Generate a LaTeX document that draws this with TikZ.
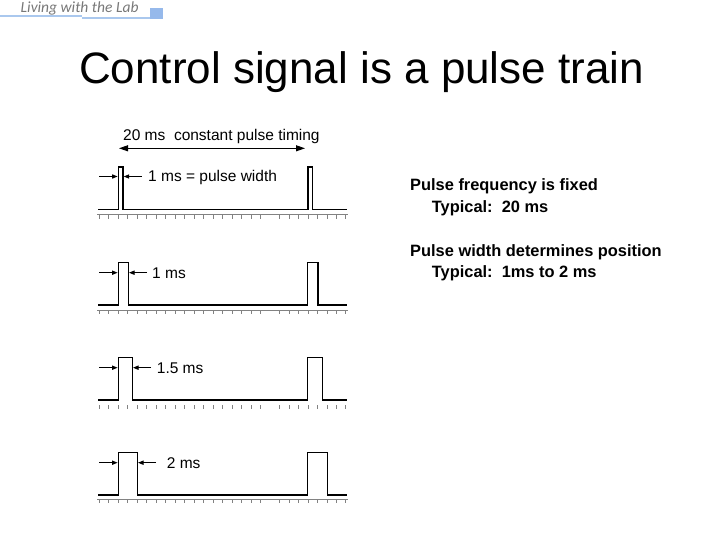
\documentclass[tikz,border=0pt]{standalone}
\usepackage{fontspec}
\setmainfont{Liberation Sans}
\newfontfamily\hdrfont{Carlito}
\usetikzlibrary{arrows.meta}
\definecolor{hdrblue}{RGB}{170,200,238}
\definecolor{hdrsq}{RGB}{150,185,235}
\definecolor{hdrgray}{RGB}{120,120,120}
\definecolor{tickgray}{RGB}{130,130,130}
\frenchspacing
\begin{document}
\begin{tikzpicture}[x=1pt,y=-1pt,
  wave/.style={line width=1.2pt, line join=miter, line cap=rect},
  dimarrow/.style={-{Triangle[length=5.5pt,width=4.2pt]}, line width=0.9pt},
  dblarrow/.style={{Triangle[length=9pt,width=6pt]}-{Triangle[length=9pt,width=6pt]}, line width=1pt},
  lbl/.style={font=\fontsize{15.5}{18}\selectfont, anchor=base west, inner sep=0pt},
  rtext/.style={font=\bfseries\fontsize{16.4}{19}\selectfont, anchor=base west, inner sep=0pt},
  tickline/.style={draw=tickgray, line width=0.6pt}]
\useasboundingbox (0,0) rectangle (720,540);
% header
\node[anchor=base west, inner sep=0pt, text=hdrgray, font=\hdrfont\itshape\fontsize{15.5}{18}\selectfont] (hdr) at (20.5,12.7) {Living with the Lab};
\fill[hdrblue] (0,15.4) rectangle (81.7,17.3);
\fill[hdrblue] (81.7,17.3) rectangle (163,19.3);
\fill[hdrsq] (150,8.3) rectangle (163,19.3);
% title
\node[anchor=base west, inner sep=0pt, font=\fontsize{44}{50}\selectfont] (title) at (79,83.3) {Control signal is a pulse train};
% right text
\node[rtext] (t1) at (410,190.7) {Pulse frequency is fixed};
\node[rtext] (t2) at (431.7,212.3) {Typical:~ 20 ms};
\node[rtext] (t3) at (410,256) {Pulse width determines position};
\node[rtext] (t4) at (431.7,277.3) {Typical:~ 1ms to 2 ms};
% 20 ms arrow
\node[lbl] (per) at (123,141) {20 ms~ constant pulse timing};
\coordinate (pa) at (119,148.3);
\coordinate (pb) at (305,148.3);
\draw[dblarrow] (pa) -- (pb);
% rows: base, top, p1 right, p2 left, p2 right, arrow y, left-arrow start, label x, label, tick y
\foreach \base/\top/\pr/\ql/\qr/\ay/\ls/\lx/\txt/\ty [count=\r] in {
  209.3/167/123/308/312.7/176.5/141.5/148/{1 ms = pulse width}/214.5,
  305/262.3/128.3/307.3/318/272.7/147/152/{1 ms}/310,
  400/357.3/132.3/307.7/322.3/367.7/151/156.7/{1.5 ms}/405,
  495/452.3/137.3/307.3/327.3/462.7/156/166.7/{2 ms}/499}{
  \draw[wave] (99,\base) -- (118.3,\base) -- (118.3,\top) -- (\pr,\top) -- (\pr,\base)
     -- (\ql,\base) -- (\ql,\top) -- (\qr,\top) -- (\qr,\base) -- (346.7,\base);
  \coordinate (la\r) at (99,\ay);
  \coordinate (lb\r) at (117.6,\ay);
  \coordinate (lc\r) at (\ls,\ay);
  \coordinate (ld\r) at (\pr+0.7,\ay);
  \draw[dimarrow] (la\r) -- (lb\r);
  \draw[dimarrow] (lc\r) -- (ld\r);
  \node[lbl] (lab\r) at (\lx,\ay+5.3) {\txt};
  \ifnum\r=3\else
    \draw[tickline] (97,\ty) -- (348,\ty);
  \fi
  \foreach \i in {0,...,26}{
    \ifnum\i=18\else
      \draw[tickline] (99.3+9.48*\i,\ty) -- (99.3+9.48*\i,\ty+4.2);
    \fi
  }
}
\end{tikzpicture}
\end{document}
